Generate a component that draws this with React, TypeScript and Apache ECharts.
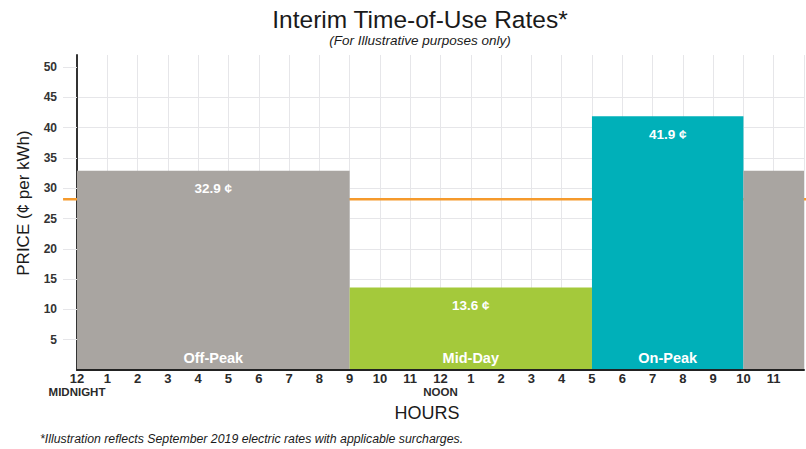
import React, { useEffect, useRef } from "react";
import * as echarts from "echarts";

// Rate periods across the day (hours from midnight)
const periodStart = [0, 9, 17, 22];
const periodEnd = [9, 17, 22, 24];
const periodRate = [32.9, 13.6, 41.9, 32.9];
const periodName = ["Off-Peak", "Mid-Day", "On-Peak", ""];
const periodLabeled = [true, true, true, false];
const periodColor = ["#a9a5a1", "#a4c93b", "#00b0b9", "#a9a5a1"];

// Reference line level (¢ per kWh) and the hour span it is drawn over
const referenceRate = 28.2;
const referenceSpan = [-0.46, 24];

// Hour tick labels (0..23), with sub-labels on midnight and noon
const hourLabels = ["12", "1", "2", "3", "4", "5", "6", "7", "8", "9", "10", "11",
  "12", "1", "2", "3", "4", "5", "6", "7", "8", "9", "10", "11"];
const hourSubLabels: Record<number, string> = { 0: "MIDNIGHT", 12: "NOON" };

const priceTicks = [5, 10, 15, 20, 25, 30, 35, 40, 45, 50];

const FONT = "'Liberation Sans', Arial, Helvetica, sans-serif";

export default function App() {
  const ref = useRef<HTMLDivElement>(null);

  useEffect(() => {
    if (!ref.current) return;
    const chart = echarts.init(ref.current, undefined, { renderer: "svg" });

    const segments = periodStart.map((s, i) => [s, periodEnd[i], periodRate[i]]);
    const centered = {
      textAlign: "center",
      textVerticalAlign: "middle",
      align: "center",
      verticalAlign: "middle",
    };

    chart.setOption({
      animation: false,
      backgroundColor: "#ffffff",
      textStyle: { fontFamily: FONT },
      grid: { left: 77, right: 2, top: 55, bottom: 79, containLabel: false },
      xAxis: [
        {
          type: "value",
          min: 0,
          max: 24,
          interval: 1,
          axisLine: { show: true, onZero: false, lineStyle: { color: "#222", width: 2 } },
          axisTick: { show: false },
          splitLine: { show: true, lineStyle: { color: "#e6e6e9", width: 1 } },
          axisLabel: {
            margin: 2,
            fontSize: 13,
            fontWeight: "bold",
            color: "#2a2a2a",
            fontFamily: FONT,
            showMinLabel: true,
            showMaxLabel: false,
            formatter: (v: number) => (v >= 24 ? "" : hourLabels[v]),
          },
        },
        {
          // Second row of hour labels: MIDNIGHT / NOON
          type: "value",
          position: "bottom",
          offset: 14,
          min: 0,
          max: 24,
          interval: 12,
          axisLine: { show: false },
          axisTick: { show: false },
          splitLine: { show: false },
          axisLabel: {
            margin: 2,
            fontSize: 11.5,
            fontWeight: "bold",
            color: "#2a2a2a",
            fontFamily: FONT,
            showMinLabel: true,
            showMaxLabel: false,
            formatter: (v: number) => hourSubLabels[v] ?? "",
          },
        },
      ],
      yAxis: {
        type: "value",
        min: 0,
        max: 52,
        interval: 5,
        axisLine: { show: true, lineStyle: { color: "#333", width: 2 } },
        axisTick: {
          show: true,
          length: 14,
          lineStyle: { color: "#e6e6e9" },
          customValues: priceTicks,
        },
        splitLine: {
          show: true,
          showMinLine: false,
          showMaxLine: false,
          lineStyle: { color: "#e6e6e9", width: 1 },
        },
        axisLabel: {
          margin: 20,
          fontSize: 12,
          fontWeight: "bold",
          color: "#333",
          fontFamily: FONT,
          formatter: (v: number) => (priceTicks.includes(v) ? String(v) : ""),
        },
      },
      series: [
        {
          // Orange reference level, drawn behind the rate blocks
          type: "custom",
          z: 1,
          silent: true,
          clip: false,
          xAxisIndex: 0,
          data: [[referenceSpan[0], referenceSpan[1], referenceRate]],
          encode: { x: [0, 1], y: 2 },
          renderItem: (_params: any, api: any) => {
            const a = api.coord([api.value(0), api.value(2)]);
            const b = api.coord([api.value(1), api.value(2)]);
            return {
              type: "line",
              shape: { x1: a[0], y1: a[1], x2: b[0] + 2, y2: b[1] },
              style: { stroke: "#f59a2c", lineWidth: 2.5 },
            };
          },
        },
        {
          type: "custom",
          z: 3,
          silent: true,
          clip: false,
          xAxisIndex: 0,
          encode: { x: [0, 1], y: 2 },
          data: segments,
          renderItem: (params: any, api: any) => {
            const i = params.dataIndex;
            const start = api.value(0);
            const end = api.value(1);
            const rate = api.value(2);
            const topLeft = api.coord([start, rate]);
            const bottomRight = api.coord([end, 0]);
            const cx = (topLeft[0] + bottomRight[0]) / 2;
            const children: any[] = [
              {
                type: "rect",
                shape: {
                  x: topLeft[0],
                  y: topLeft[1],
                  width: bottomRight[0] - topLeft[0],
                  height: bottomRight[1] - topLeft[1] - 1,
                },
                style: { fill: periodColor[i] },
              },
            ];
            if (periodLabeled[i]) {
              children.push({
                type: "text",
                x: cx,
                y: topLeft[1] + 18,
                style: {
                  text: `${rate} ¢`,
                  fill: "#ffffff",
                  fontSize: 13.5,
                  fontWeight: "bold",
                  fontFamily: FONT,
                  ...centered,
                },
              });
              children.push({
                type: "text",
                x: cx,
                y: bottomRight[1] - 12,
                style: {
                  text: periodName[i],
                  fill: "#ffffff",
                  fontSize: 14.5,
                  fontWeight: "bold",
                  fontFamily: FONT,
                  ...centered,
                },
              });
            }
            return { type: "group", children };
          },
        },
      ],
      graphic: [
        {
          type: "text",
          x: 420,
          y: 19,
          style: {
            text: "Interim Time-of-Use Rates*",
            fill: "#1a1a1a",
            font: `24.5px ${FONT}`,
            ...centered,
          },
        },
        {
          type: "text",
          x: 420,
          y: 40,
          style: {
            text: "(For Illustrative purposes only)",
            fill: "#1a1a1a",
            font: `italic 13.5px ${FONT}`,
            ...centered,
          },
        },
        {
          type: "text",
          x: 23,
          y: 203,
          rotation: Math.PI / 2,
          style: {
            text: "PRICE (¢ per kWh)",
            fill: "#1a1a1a",
            font: `17px ${FONT}`,
            ...centered,
          },
        },
        {
          type: "text",
          x: 427,
          y: 413,
          style: {
            text: "HOURS",
            fill: "#1a1a1a",
            font: `18px ${FONT}`,
            ...centered,
          },
        },
        {
          type: "text",
          x: 40,
          y: 439,
          style: {
            text: "*Illustration reflects September 2019 electric rates with applicable surcharges.",
            fill: "#1a1a1a",
            font: `italic 12.3px ${FONT}`,
            textAlign: "left",
            textVerticalAlign: "middle",
            align: "left",
            verticalAlign: "middle",
          },
        },
      ],
    });

    return () => chart.dispose();
  }, []);

  return (
    <div
      ref={ref}
      style={{ position: "fixed", left: 0, top: 0, width: 806, height: 449 }}
    />
  );
}
